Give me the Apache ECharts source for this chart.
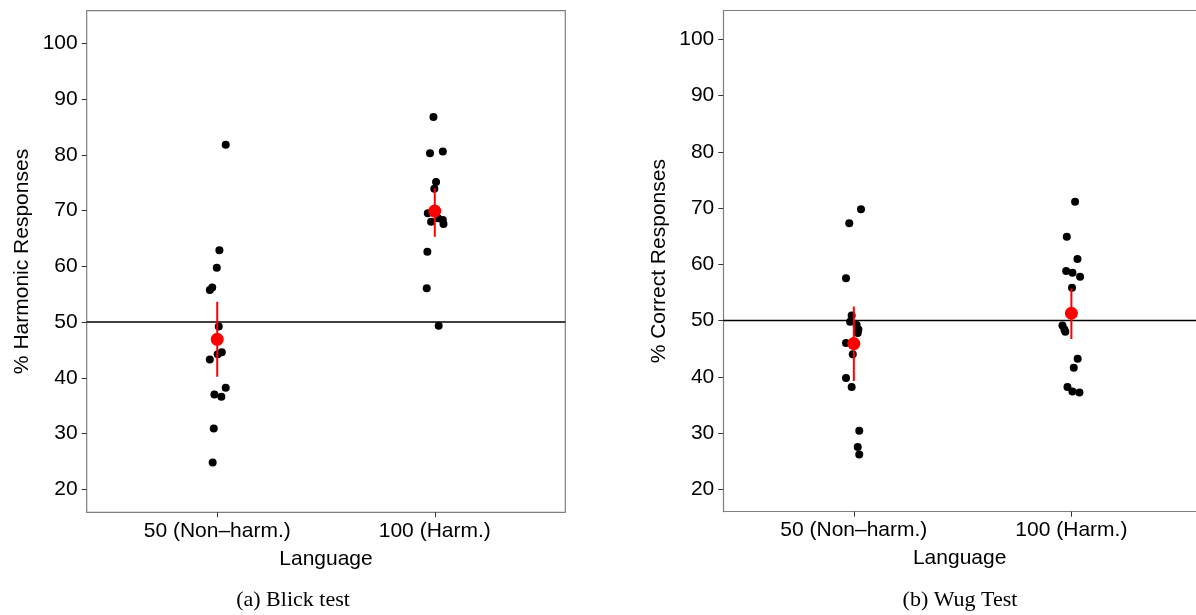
<!DOCTYPE html>
<html><head><meta charset="utf-8">
<script src="https://cdn.jsdelivr.net/npm/echarts@6/dist/echarts.min.js"></script>
<style>html,body{margin:0;padding:0;background:#fff}#c{width:1196px;height:615px}</style>
</head><body><div id="c"></div>
<script>
// categories (x positions 1 and 2 on a value axis)
const categories = ['50 (Non\u2013harm.)', '100 (Harm.)'];
const yTicks = [20, 30, 40, 50, 60, 70, 80, 90, 100];
// each point: [jitter offset from category, % value]
const blickNonHarm = [[0.039,81.8],[0.010,62.9],[-0.002,59.75],[-0.023,56.2],[-0.034,55.75],[0.007,49.2],[0.021,44.6],[0.002,44.2],[-0.034,43.3],[0.039,38.2],[-0.013,37.0],[0.019,36.6],[-0.016,30.9],[-0.021,24.8]];
const blickHarm = [[-0.006,86.8],[-0.022,80.3],[0.037,80.6],[0.006,75.1],[-0.002,73.9],[-0.032,69.5],[-0.017,68.0],[0.037,68.3],[0.040,67.6],[0.015,68.6],[-0.034,62.6],[-0.037,56.05],[0.018,49.35]];
const wugNonHarm = [[0.033,69.8],[-0.021,67.3],[-0.036,57.5],[-0.010,50.9],[-0.017,49.8],[0.013,49.2],[0.021,48.4],[0.018,47.8],[-0.036,46.0],[-0.005,44.0],[-0.036,39.8],[-0.010,38.2],[0.025,30.4],[0.018,27.5],[0.025,26.2]];
const wugHarm = [[0.017,71.1],[-0.021,64.9],[0.028,60.95],[-0.024,58.8],[0.005,58.5],[0.040,57.8],[0.003,55.85],[-0.041,49.1],[-0.032,48.4],[-0.028,48.0],[0.029,43.2],[0.011,41.6],[-0.018,38.2],[0.005,37.4],[0.037,37.2]];
// means with [mean, low, high]
const blickMeans = [[46.9, 40.2, 53.65], [69.9, 65.3, 74.0]];
const wugMeans = [[45.9, 39.25, 52.5], [51.3, 46.7, 55.7]];
const chanceLevel = 50;
const yNames = ['% Harmonic Responses', '% Correct Responses'];
const xName = 'Language';
const captions = ['(a) Blick test', '(b) Wug Test'];

const chart = echarts.init(document.getElementById('c'), null, {renderer: 'canvas'});
const FONT = 'Liberation Sans';
const BORDER = '#7f7f7f';
// right panel is cut off by the page edge: visible width 472.7 px at the same px/unit scale
const grids = [
  {left: 86.7, top: 10.7, width: 478.6, height: 501.6},
  {left: 723.3, top: 10.7, width: 472.7, height: 501.0}
];
const xMax = [2.6, 0.4 + 472.7 / 478.6 * 2.2];
const yRanges = [[15.87, 105.85], [16.02, 105.08]];

function xAxis(i) {
  return {
    type: 'value', gridIndex: i, min: 0.4, max: xMax[i], position: 'bottom',
    name: xName, nameLocation: 'middle', nameGap: 36,
    nameTextStyle: {fontFamily: FONT, fontSize: 21, color: '#000'},
    axisLine: {show: i === 1, lineStyle: {color: BORDER, width: 1.2}}, splitLine: {show: false},
    axisTick: {show: true, length: 5, customValues: [1, 2], lineStyle: {color: '#333', width: 1}},
    axisLabel: {customValues: [1, 2], margin: 8, fontFamily: FONT, fontSize: 21, color: '#000',
      formatter: v => categories[Math.round(v) - 1]}
  };
}
function topAxis(i) {
  return {
    type: 'value', gridIndex: i, min: 0.4, max: xMax[i], position: 'top',
    axisLine: {show: true, lineStyle: {color: BORDER, width: 1.2}},
    axisTick: {show: false}, axisLabel: {show: false}, splitLine: {show: false}
  };
}
function yAxis(i) {
  return {
    type: 'value', gridIndex: i, min: yRanges[i][0], max: yRanges[i][1],
    name: yNames[i], nameLocation: 'middle', nameGap: 54, nameRotate: 90,
    nameTextStyle: {fontFamily: FONT, fontSize: 21, color: '#000'},
    axisLine: {show: i === 1, lineStyle: {color: BORDER, width: 1.2}}, splitLine: {show: false},
    axisTick: {show: true, length: 5, customValues: yTicks, lineStyle: {color: '#333', width: 1}},
    axisLabel: {customValues: yTicks, margin: 9, fontFamily: FONT, fontSize: 21, color: '#000'}
  };
}
function pts(arr, cat) { return arr.map(p => [cat + p[0], p[1]]); }

const series = [];
[[blickNonHarm, blickHarm, blickMeans], [wugNonHarm, wugHarm, wugMeans]].forEach((set, i) => {
  series.push({
    type: 'line', xAxisIndex: i, yAxisIndex: i, data: [[0.4, chanceLevel], [xMax[i], chanceLevel]],
    symbol: 'none', lineStyle: {color: '#000', width: 1.6}, silent: true, z: 1
  });
  [set[0], set[1]].forEach((arr, k) => {
    series.push({
      type: 'scatter', xAxisIndex: i, yAxisIndex: i, data: pts(arr, k + 1),
      symbolSize: 8, itemStyle: {color: '#000', opacity: 1}, z: 2
    });
  });
  set[2].forEach((m, k) => {
    series.push({
      type: 'line', xAxisIndex: i, yAxisIndex: i, data: [[k + 1, m[1]], [k + 1, m[2]]],
      symbol: 'none', lineStyle: {color: '#ff0000', width: 2}, z: 3
    });
  });
  series.push({
    type: 'scatter', xAxisIndex: i, yAxisIndex: i, data: set[2].map((m, k) => [k + 1, m[0]]),
    symbolSize: 13, itemStyle: {color: '#ff0000', opacity: 1}, z: 4
  });
});

chart.setOption({
  animation: false,
  backgroundColor: '#fff',
  grid: grids.map((g, i) => Object.assign({show: i === 0, borderColor: BORDER, borderWidth: 1.2, backgroundColor: '#fff', containLabel: false}, g)),
  xAxis: [xAxis(0), xAxis(1), topAxis(1)],
  yAxis: [yAxis(0), yAxis(1)],
  title: [
    {text: captions[0], left: 288, top: 584, textAlign: 'center',
      textStyle: {fontFamily: 'Liberation Serif', fontSize: 22, fontWeight: 'normal', color: '#000'}},
    {text: captions[1], left: 955, top: 584, textAlign: 'center',
      textStyle: {fontFamily: 'Liberation Serif', fontSize: 22, fontWeight: 'normal', color: '#000'}}
  ],
  series: series
});
</script></body></html>
